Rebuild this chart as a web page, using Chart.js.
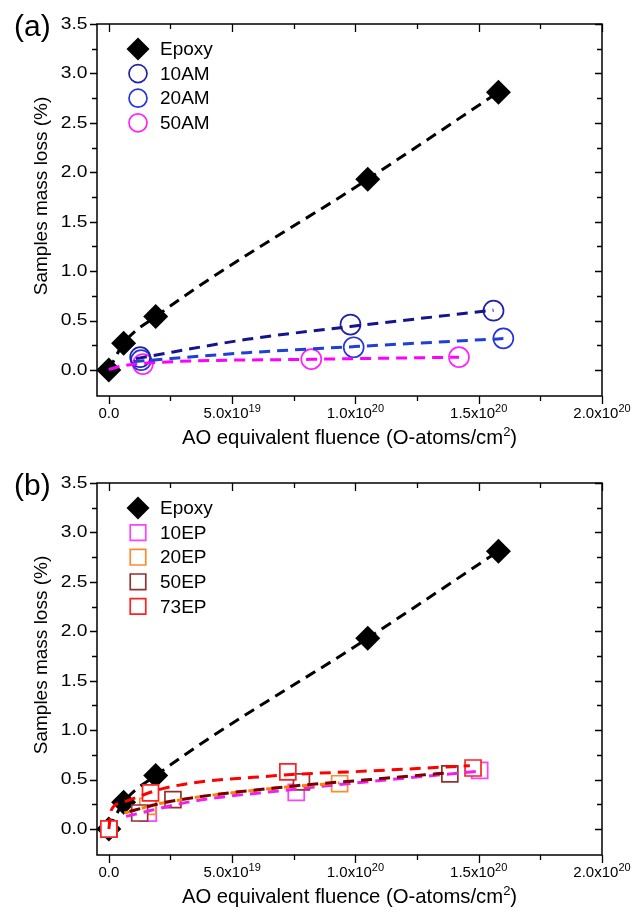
<!DOCTYPE html>
<html><head><meta charset="utf-8">
<script src="https://cdn.jsdelivr.net/npm/chart.js@4/dist/chart.umd.min.js"></script>
<style>
html,body{margin:0;padding:0;background:#fff;width:634px;height:922px;overflow:hidden}
.wrap{position:absolute;left:0;width:634px;height:459px}
#wa{top:0}
#wb{top:459px}
</style></head><body>
<div class="wrap" id="wa"><canvas id="ca"></canvas></div>
<div class="wrap" id="wb"><canvas id="cb"></canvas></div>
<script>
// ---------- data ----------
const xTickValues   = [0, 5e19, 1e20, 1.5e20, 2e20];
const xTickMantissa = ['0.0', '5.0x10', '1.0x10', '1.5x10', '2.0x10'];
const xTickExponent = ['', '19', '20', '20', '20'];

const epoxyFluence = [0, 6.0e18, 1.9e19, 1.05e20, 1.58e20];
const epoxyLoss    = [0, 0.27, 0.54, 1.93, 2.81];

// panel (a)
const am10Fluence = [1.27e19, 9.8e19, 1.56e20];
const am10Loss    = [0.13, 0.46, 0.60];
const am20Fluence = [1.31e19, 9.93e19, 1.60e20];
const am20Loss    = [0.10, 0.23, 0.32];
const am50Fluence = [1.38e19, 8.21e19, 1.42e20];
const am50Loss    = [0.06, 0.11, 0.13];

const am10FitFluence = [1.1e19, 5.6e19, 9.8e19, 1.56e20];
const am10FitLoss    = [0.115, 0.31, 0.44, 0.605];
const am20FitFluence = [1.0e19, 5.6e19, 9.9e19, 1.6e20];
const am20FitLoss    = [0.085, 0.175, 0.236, 0.318];
const am50FitFluence = [0, 4.3e18, 1.4e19, 8.2e19, 1.42e20];
const am50FitLoss    = [0.005, 0.035, 0.068, 0.108, 0.13];

// panel (b)
const ep10Fluence = [0, 1.6e19, 7.6e19, 1.504e20];
const ep10Loss    = [0, 0.16, 0.37, 0.593];
const ep20Fluence = [0, 1.58e19, 9.36e19];
const ep20Loss    = [0, 0.229, 0.458];
const ep50Fluence = [0, 1.25e19, 2.6e19, 7.81e19, 1.383e20];
const ep50Loss    = [0, 0.162, 0.297, 0.476, 0.557];
const ep73Fluence = [0, 1.69e19, 7.26e19, 1.477e20];
const ep73Loss    = [0, 0.365, 0.577, 0.617];

const ep10FitFluence = [7e18, 3.4e19, 7.06e19, 1.1e20, 1.504e20];
const ep10FitLoss    = [0.128, 0.28, 0.39, 0.49, 0.585];
const ep20FitFluence = [6.3e18, 2.19e19, 6.52e19, 9.36e19];
const ep20FitLoss    = [0.162, 0.263, 0.408, 0.466];
const ep50FitFluence = [8.4e18, 2.3e19, 7.33e19, 1.06e20, 1.383e20];
const ep50FitLoss    = [0.178, 0.27, 0.431, 0.5, 0.57];
const ep73FitFluence = [0, 1.0e18, 5.0e18, 2.33e19, 6.79e19, 1.058e20, 1.464e20];
const ep73FitLoss    = [0, 0.19, 0.266, 0.418, 0.54, 0.587, 0.64];

// ---------- helpers ----------
const FONT = '"Liberation Sans", Arial, sans-serif';
const pts = (xs, ys) => xs.map((x, i) => ({x: x, y: ys[i]}));
const DASH = [11, 7];

function markerSet(label, xs, ys, style, color, radius, order, fill) {
  return {label, data: pts(xs, ys), showLine: false, pointStyle: style,
    pointRadius: radius, pointHoverRadius: radius,
    pointBorderColor: color, pointBackgroundColor: fill || 'rgba(0,0,0,0)',
    pointBorderWidth: 1.7, order, isMarker: true};
}
function fitSet(xs, ys, color, order) {
  return {label: '', data: pts(xs, ys), showLine: true, borderColor: color,
    borderWidth: 3, borderDash: DASH, pointRadius: 0, pointHoverRadius: 0,
    cubicInterpolationMode: 'monotone', order, isFit: true};
}
function epoxySet(order) {
  return {label: 'Epoxy', data: pts(epoxyFluence, epoxyLoss), showLine: true,
    borderColor: '#000', borderWidth: 3, borderDash: DASH, cubicInterpolationMode: 'monotone',
    pointStyle: 'rectRot', pointRadius: 12.5, pointHoverRadius: 12.5,
    pointBackgroundColor: '#000', pointBorderColor: '#000', pointBorderWidth: 0,
    order, isMarker: true};
}

function drawMarker(ctx, style, x, y, r, stroke, fill, lw) {
  ctx.save();
  ctx.beginPath();
  if (style === 'circle') ctx.arc(x, y, r, 0, Math.PI * 2);
  else if (style === 'rectRot') { ctx.moveTo(x, y - r); ctx.lineTo(x + r, y); ctx.lineTo(x, y + r); ctx.lineTo(x - r, y); ctx.closePath(); }
  else { const s = r * Math.SQRT1_2; ctx.rect(x - s, y - s, 2 * s, 2 * s); }
  ctx.fillStyle = fill; ctx.fill();
  if (lw > 0) { ctx.lineWidth = lw; ctx.strokeStyle = stroke; ctx.stroke(); }
  ctx.restore();
}

function drawSupText(ctx, cx, y, parts) {
  let tot = 0;
  const ws = parts.map(p => { ctx.font = p[1] + 'px ' + FONT; const w = ctx.measureText(p[0]).width; tot += w; return w; });
  let x = cx - tot / 2;
  ctx.textAlign = 'left'; ctx.textBaseline = 'alphabetic'; ctx.fillStyle = '#000';
  parts.forEach((p, i) => { ctx.font = p[1] + 'px ' + FONT; ctx.fillText(p[0], x, y - p[2]); x += ws[i]; });
}

const framePlugin = {
  id: 'frame',
  afterDraw(chart, args, opts) {
    const ctx = chart.ctx, a = chart.chartArea;
    const xs = chart.scales.x, ys = chart.scales.y;
    ctx.save();
    ctx.strokeStyle = '#000';
    ctx.lineWidth = 1.5;
    ctx.strokeRect(a.left, a.top, a.right - a.left, a.bottom - a.top);
    ctx.lineWidth = 1.3;
    ctx.beginPath();
    for (let k = 0; k <= 8; k++) {
      const px = Math.round(xs.getPixelForValue(k * 2.5e19)) + 0.5;
      const len = k % 2 === 0 ? 8 : 5;
      ctx.moveTo(px, a.bottom); ctx.lineTo(px, a.bottom + len);
      ctx.moveTo(px, a.top); ctx.lineTo(px, a.top + len);
    }
    for (let k = 0; k <= 14; k++) {
      const py = Math.round(ys.getPixelForValue(k * 0.25)) + 0.5;
      const len = k % 2 === 0 ? 7 : 5;
      ctx.moveTo(a.left, py); ctx.lineTo(a.left - len, py);
      ctx.moveTo(a.right, py); ctx.lineTo(a.right - len, py);
    }
    ctx.stroke();
    // y tick labels from the scale's ticks
    ys.ticks.forEach(t => {
      const py = ys.getPixelForValue(t.value);
      ctx.save();
      ctx.translate(a.left - 9.5, py);
      ctx.scale(1.2, 1);
      ctx.font = '16px ' + FONT;
      ctx.fillStyle = '#000';
      ctx.textAlign = 'right'; ctx.textBaseline = 'middle';
      ctx.fillText(t.value.toFixed(1), 0, 0.5);
      ctx.restore();
    });
    // x tick labels with superscripts
    xTickValues.forEach((v, i) => {
      drawSupText(ctx, xs.getPixelForValue(v), a.bottom + 22,
        [[xTickMantissa[i], 15, 0], [xTickExponent[i], 11, 6]]);
    });
    // x axis title
    drawSupText(ctx, (a.left + a.right) / 2, a.bottom + 48,
      [['AO equivalent fluence (O-atoms/cm', 20.3, 0], ['2', 13, 8], [')', 20.3, 0]]);
    // y axis title
    ctx.save();
    ctx.translate(42, (ys.getPixelForValue(0) + ys.getPixelForValue(3.5)) / 2 - 1);
    ctx.rotate(-Math.PI / 2);
    ctx.font = '19px ' + FONT;
    ctx.textAlign = 'center'; ctx.textBaseline = 'middle';
    ctx.fillStyle = '#000';
    ctx.fillText('Samples mass loss (%)', 0, 0);
    ctx.restore();
    // panel label
    ctx.font = '30px ' + FONT;
    ctx.fillStyle = '#000';
    ctx.textAlign = 'left'; ctx.textBaseline = 'middle';
    ctx.fillText(opts.panel, 14, 28);
    // legend
    const entries = chart.data.datasets.filter(d => d.isMarker);
    entries.forEach((d, i) => {
      const y = a.top + 25 + i * 24.6;
      const r = d.pointStyle === 'rectRot' ? 11.5 : (d.pointStyle === 'circle' ? 9 : 11);
      drawMarker(ctx, d.pointStyle, 138, y, r, d.pointBorderColor, d.pointBackgroundColor, d.pointBorderWidth);
      ctx.font = '19px ' + FONT;
      ctx.fillStyle = '#000';
      ctx.textAlign = 'left'; ctx.textBaseline = 'middle';
      ctx.fillText(d.label, 160, y + 1);
    });
    ctx.restore();
  }
};

function makeChart(id, datasets, panel) {
  return new Chart(document.getElementById(id), {
    type: 'scatter',
    data: {datasets},
    plugins: [framePlugin],
    options: {
      responsive: true, maintainAspectRatio: false, animation: false,
      layout: {padding: {left: 0, right: 32, top: 24, bottom: 0}},
      plugins: {legend: {display: false}, tooltip: {enabled: false}, frame: {panel}},
      scales: {
        x: {type: 'linear', min: -4.8e18, max: 2e20,
            ticks: {display: false}, grid: {display: false, drawTicks: false}, border: {display: false},
            afterFit: s => { s.height = 63; }},
        y: {type: 'linear', min: -0.263, max: 3.5,
            ticks: {display: false, stepSize: 0.5, autoSkip: false},
            afterBuildTicks: s => { s.ticks = s.ticks.filter(t => Math.abs(t.value * 2 - Math.round(t.value * 2)) < 1e-6); },
            grid: {display: false, drawTicks: false}, border: {display: false},
            afterFit: s => { s.width = 97; }}
      }
    }
  });
}

makeChart('ca', [
  epoxySet(20),
  markerSet('10AM', am10Fluence, am10Loss, 'circle', '#2222a8', 10, 2),
  markerSet('20AM', am20Fluence, am20Loss, 'circle', '#2235e0', 10, 3),
  markerSet('50AM', am50Fluence, am50Loss, 'circle', '#ff22ff', 10, 4),
  fitSet(am10FitFluence, am10FitLoss, '#14148f', 0),
  fitSet(am20FitFluence, am20FitLoss, '#1f3fd6', 0),
  fitSet(am50FitFluence, am50FitLoss, '#ff00ff', 0)
], '(a)');

makeChart('cb', [
  epoxySet(20),
  markerSet('10EP', ep10Fluence, ep10Loss, 'rect', '#ff40ff', 11.3, 5, '#fff'),
  markerSet('20EP', ep20Fluence, ep20Loss, 'rect', '#ff8c2a', 11.3, 4, '#fff'),
  markerSet('50EP', ep50Fluence, ep50Loss, 'rect', '#933030', 11.3, 3, '#fff'),
  markerSet('73EP', ep73Fluence, ep73Loss, 'rect', '#ff2020', 11.3, 2, '#fff'),
  fitSet(ep73FitFluence, ep73FitLoss, '#ff0000', 0),
  fitSet(ep50FitFluence, ep50FitLoss, '#7a0000', 0),
  fitSet(ep20FitFluence, ep20FitLoss, '#ff8000', 0),
  fitSet(ep10FitFluence, ep10FitLoss, '#f020f0', 0)
], '(b)');
</script>
</body></html>
